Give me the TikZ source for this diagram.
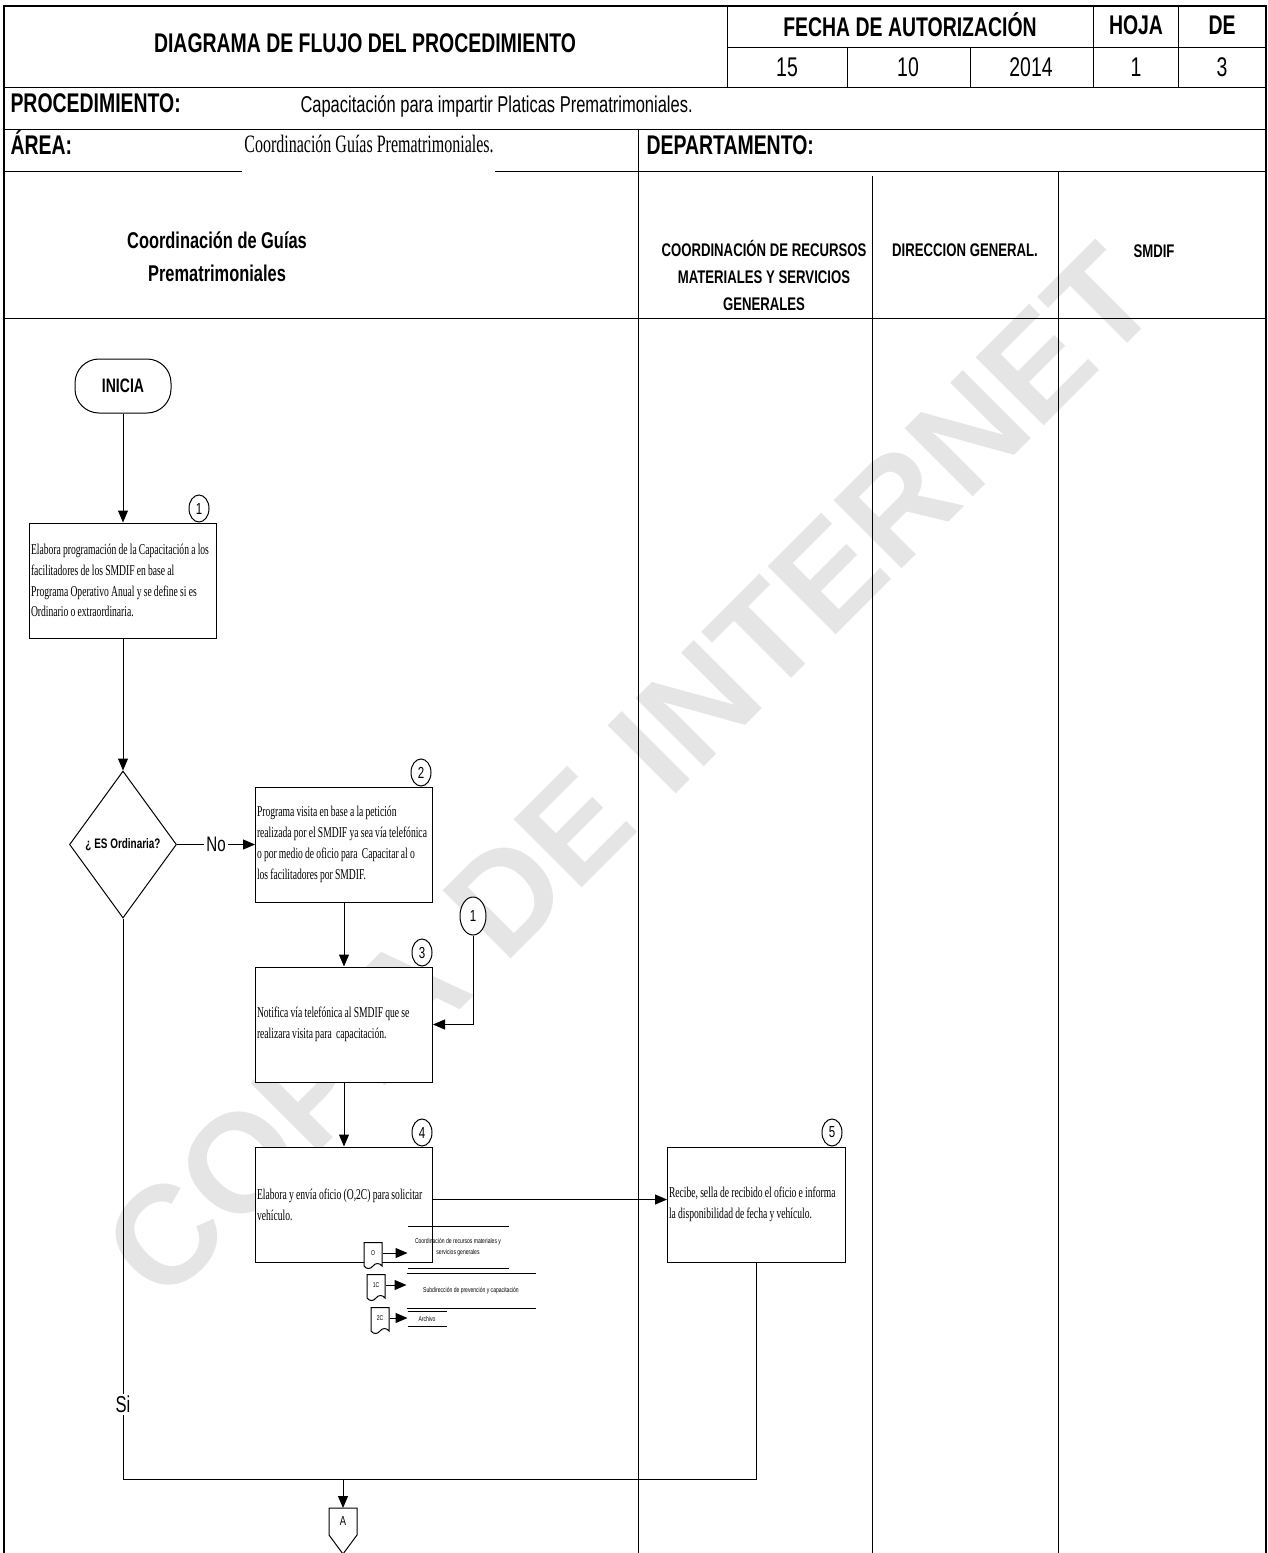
\documentclass[tikz,border=0pt]{standalone}
\usepackage{fontspec}
\setmainfont{Liberation Sans}
\newfontfamily\narrowsf[FakeStretch=0.72]{Liberation Sans}
\newfontfamily\narrowrm[FakeStretch=0.64]{Liberation Serif}
\usetikzlibrary{arrows.meta, positioning, shapes.geometric, shapes.symbols}

\begin{document}
\begin{tikzpicture}[
  x=1pt, y=-1pt,
  >={Triangle[length=12pt, width=10pt]},  % Arrow tip
  line width=1pt,
  % Define text styles
  headtext/.style={inner sep=0pt, font=\narrowsf\bfseries\fontsize{27}{30}\selectfont},
  headnum/.style={inner sep=0pt, font=\narrowsf\fontsize{27}{30}\selectfont},
  subjtext/.style={inner sep=0pt, font=\narrowsf\fontsize{22.9}{26}\selectfont},
  areatext/.style={inner sep=0pt, font=\narrowrm\fontsize{25}{26}\selectfont},
  lanetitle/.style={
    align=center,
    inner sep=0pt,
    font=\narrowsf\bfseries\fontsize{18.3}{27}\selectfont
  },
  % Define block styles
  startblock/.style={
    draw,
    fill=white,
    rounded corners=24pt,
    minimum width=96pt,
    minimum height=54pt,
    font=\narrowsf\bfseries\fontsize{19.5}{20}\selectfont
  },
  taskblock/.style={
    draw,
    fill=white,
    minimum height=115pt,
    inner xsep=1.5pt,
    inner ysep=0pt,
    align=left,
    font=\narrowrm\fontsize{15}{20.8}\selectfont,
    execute at begin node={\spaceskip=2.2pt plus 0.5pt\relax}
  },
  decision/.style={
    draw,
    fill=white,
    diamond,
    minimum width=107pt,
    minimum height=147pt,
    inner sep=0pt,
    font=\narrowsf\bfseries\fontsize{13.8}{15}\selectfont
  },
  stepnum/.style={
    draw,
    fill=white,
    ellipse,
    minimum width=20pt,
    minimum height=27pt,
    inner sep=0pt,
    font=\narrowsf\fontsize{16}{16}\selectfont
  },
  linkpoint/.style={
    draw,
    fill=white,
    ellipse,
    minimum width=26pt,
    minimum height=38pt,
    inner sep=0pt,
    font=\narrowsf\fontsize{16}{16}\selectfont
  },
  offpage/.style={
    fill=white,
    minimum width=27pt,
    minimum height=26pt,
    inner sep=0pt,
    font=\narrowsf\fontsize{13}{13}\selectfont
  },
  docblock/.style={
    draw,
    fill=white,
    tape,
    tape bend top=none,
    tape bend height=5pt,
    minimum width=18pt,
    minimum height=26pt,
    inner sep=1pt,
    font=\narrowsf\fontsize{7}{8}\selectfont
  },
  recipient/.style={
    inner sep=0pt,
    align=center,
    font=\narrowsf\fontsize{7}{11}\selectfont
  },
  choice/.style={fill=white, inner sep=2pt, font=\narrowsf\fontsize{21}{22}\selectfont},
  watermark/.style={text=black!10, inner sep=0pt, font=\bfseries\fontsize{140}{140}\selectfont},
  % Arrows style
  connector/.style={->}
]
\useasboundingbox (0,0) rectangle (1268,1553);

% -----------------------------------------------
% WATERMARK
% -----------------------------------------------
\node[watermark, rotate=45] (copyMark) at (630,772) {COPIA DE INTERNET};

% -----------------------------------------------
% HEADER FRAME
% -----------------------------------------------
\draw[line width=1.2pt] (4,1553) -- (4,6) -- (1266,6) -- (1266,1553);
\draw (4,87) -- (1266,87);
\draw (4,129) -- (1266,129);
\draw (727,47) -- (1266,47);
\draw (727,6) -- (727,87);
\draw (847,47) -- (847,87);
\draw (970,47) -- (970,87);
\draw (1093,6) -- (1093,87);
\draw (1178,6) -- (1178,87);
\draw (4,171) -- (242,171);
\draw (495,171) -- (1266,171);
\draw (4,318) -- (1266,318);

% Swimlane dividers
\draw (638,129) -- (638,1553);
\draw (872,176) -- (872,1553);
\draw (1058,171) -- (1058,1553);

% -----------------------------------------------
% HEADER TEXTS
% -----------------------------------------------
\node[headtext] (sheetTitle) at (365,43) {DIAGRAMA DE FLUJO DEL PROCEDIMIENTO};
\node[headtext] (dateTitle) at (910,25) {FECHA DE AUTORIZACIÓN};
\node[headtext] (pageTitle) at (1136,25) {HOJA};
\node[headtext] (ofTitle) at (1222,25) {DE};
\node[headnum] (dateDay) at (787,67) {15};
\node[headnum] (dateMonth) at (908,67) {10};
\node[headnum] (dateYear) at (1031,67) {2014};
\node[headnum] (pageNum) at (1136,67) {1};
\node[headnum] (pageTotal) at (1222,67) {3};

\node[headtext, anchor=base west] (procLabel) at (10,112) {PROCEDIMIENTO:};
\node[subjtext, anchor=base west] (procName) at (300,112) {Capacitación para impartir Platicas Prematrimoniales.};
\node[headtext, anchor=base west] (areaLabel) at (10,154) {ÁREA:};
\node[areatext, anchor=base] (areaName) at (369,152) {Coordinación Guías Prematrimoniales.};
\node[headtext, anchor=base west] (deptLabel) at (646,154) {DEPARTAMENTO:};

% Lane titles
\node[lanetitle, font=\narrowsf\bfseries\fontsize{22.8}{33}\selectfont] (laneGuias) at (217,257)
  {Coordinación de Guías\\Prematrimoniales};
\node[lanetitle] (laneRecursos) at (764,275)
  {COORDINACIÓN DE RECURSOS\\MATERIALES Y SERVICIOS\\GENERALES};
\node[lanetitle] (laneDireccion) at (965,250) {DIRECCION GENERAL.};
\node[lanetitle] (laneSmdif) at (1154,251) {SMDIF};

% -----------------------------------------------
% FLOW
% -----------------------------------------------
\node[startblock] (inicia) at (123,386) {INICIA};

\node[taskblock, text width=184pt, below=109pt of inicia] (elabProg) {
  Elabora programación de la Capacitación a los\\
  facilitadores de los SMDIF en base al\\
  Programa Operativo Anual y se define si es\\
  Ordinario o extraordinaria.
};

\node[decision, below=132pt of elabProg] (esOrd) {¿ ES Ordinaria?};

\node[taskblock, text width=174pt, right=78pt of esOrd] (progVisita) {
  Programa visita en base a la petición\\
  realizada por el SMDIF ya sea vía telefónica\\
  o por medio de oficio para~ Capacitar al o\\
  los facilitadores por SMDIF.
};

\node[taskblock, text width=174pt, below=64pt of progVisita] (notifica) {
  Notifica vía telefónica al SMDIF que se\\
  realizara visita para~ capacitación.
};

\node[taskblock, text width=174pt, below=64pt of notifica] (elabOficio) {
  Elabora y envía oficio (O,2C) para solicitar\\
  vehículo.
};

\node[taskblock, text width=175pt, right=234pt of elabOficio] (recibe) {
  Recibe, sella de recibido el oficio e informa\\
  la disponibilidad de fecha y vehículo.
};

% Step numbers
\node[stepnum, above=0pt of elabProg.north east, xshift=-18pt] (num1) {1};
\node[stepnum, above=0pt of progVisita.north east, xshift=-12pt] (num2) {2};
\node[stepnum, above=0pt of notifica.north east, xshift=-11pt] (num3) {3};
\node[stepnum, above=0pt of elabOficio.north east, xshift=-11pt] (num4) {4};
\node[stepnum, above=0pt of recibe.north east, xshift=-14pt] (num5) {5};

% Page connector back to step 1
\node[linkpoint] (link1) at (473,916) {1};

% Copies of the oficio
\node[docblock] (docO) at (373,1253) {O};
\node[docblock] (docC1) at (376,1285) {1C};
\node[docblock] (docC2) at (380,1318) {2C};

\node[recipient, minimum width=100pt, minimum height=41pt] (recO) at (458,1247.5)
  {Coordinación de recursos materiales y\\servicios generales};
\node[recipient, minimum width=128pt, minimum height=34pt] (recC1) at (471,1291)
  {Subdirección de prevención y capacitación};
\node[recipient, minimum width=38pt, minimum height=14pt] (recC2) at (427,1319) {Archivo};

\draw (recO.north west) -- (recO.north east);
\draw (recO.south west) -- (recO.south east);
\draw (recC1.north west) -- (recC1.north east);
\draw (recC1.south west) -- (recC1.south east);
\draw (recC2.north west) -- (recC2.north east);
\draw (recC2.south west) -- (recC2.south east);

% Off-page connector
\coordinate (join) at (343,1479);
\node[offpage, below=29pt of join, anchor=north] (pageA) {A};
\draw (pageA.south east) -- (pageA.north east) -- (pageA.north west) -- (pageA.south west)
  -- ([yshift=-19pt]pageA.south) -- cycle;

% -----------------------------------------------
% ARROWS AND CONNECTIONS
% -----------------------------------------------
\draw[connector] (inicia) -- (elabProg);
\draw[connector] (elabProg) -- (esOrd);
\draw[connector] (esOrd.east) -- node[choice] (noLabel) {No} (esOrd.east -| progVisita.west);
\draw[connector] (progVisita) -- (notifica);
\draw[connector] (link1.south) |- (notifica.east);
\draw[connector] (notifica) -- (elabOficio);
\draw[connector] ([yshift=5pt]elabOficio.east) -- ([yshift=5pt]elabOficio.east -| recibe.west);

\draw[connector] (docO.east) -- (docO.east -| recO.west);
\draw[connector] (docC1.east) -- (docC1.east -| recC1.west);
\draw[connector] (docC2.east) -- (docC2.east -| recC2.west);

% Both branches meet before the next page
\draw (esOrd.south) -- node[choice, pos=0.867, font=\narrowsf\fontsize{23}{24}\selectfont] (siLabel) {Si}
  (esOrd.south |- join) -- (join);
\draw (recibe.south) |- (join);
\draw[connector] (join) -- (pageA);

\end{tikzpicture}
\end{document}
